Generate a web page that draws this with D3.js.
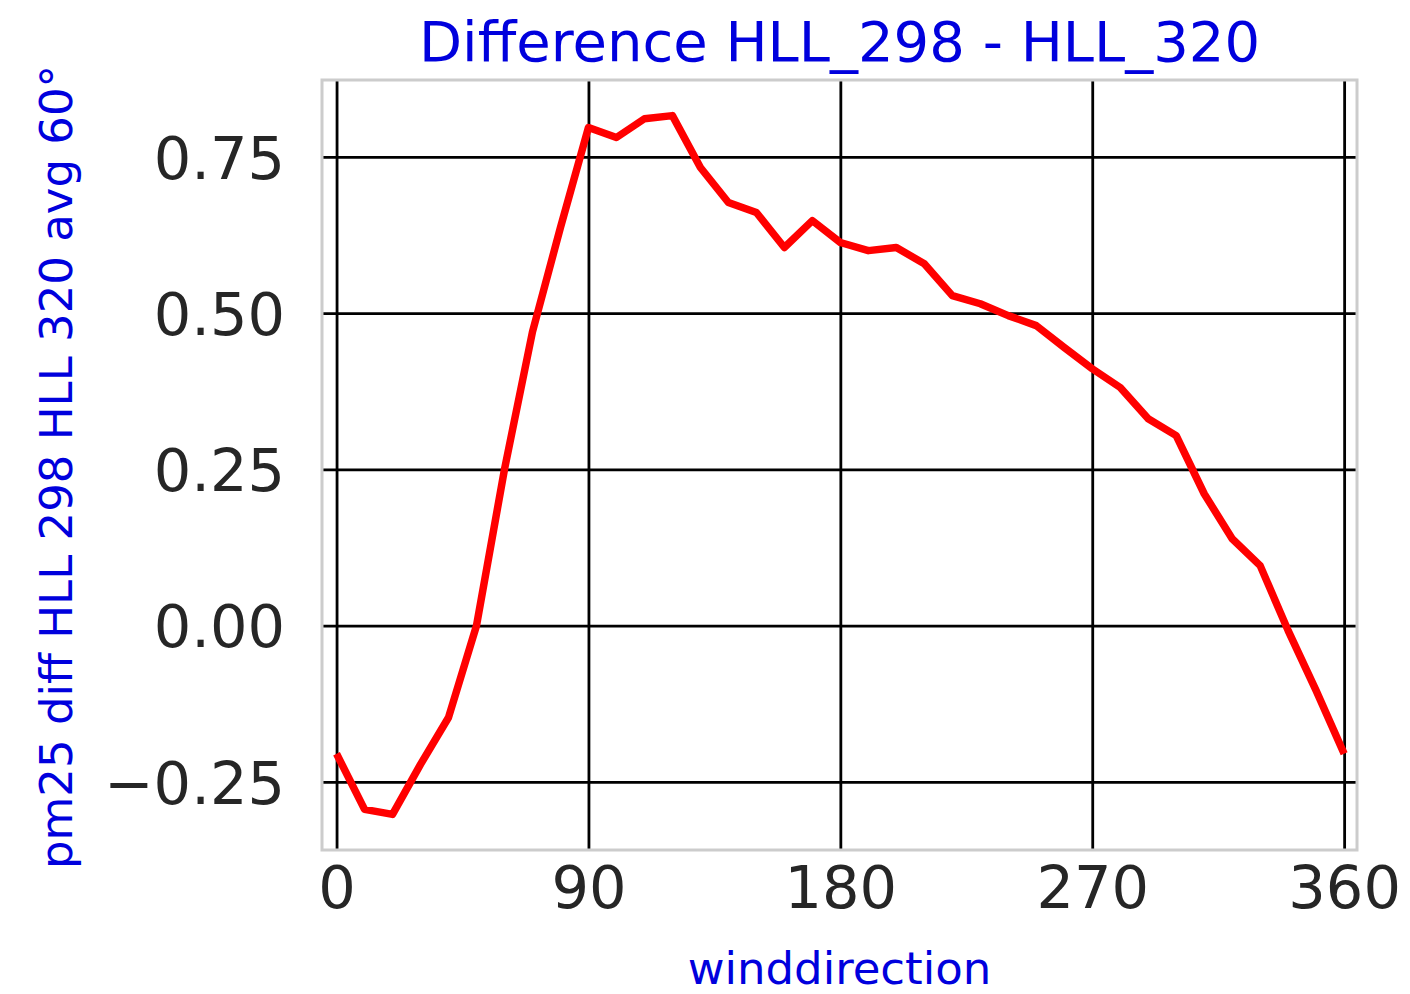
<!DOCTYPE html>
<html>
<head>
<meta charset="utf-8">
<script src="https://cdn.jsdelivr.net/npm/d3@7"></script>
<style>
  body { margin: 0; background: #fff; }
  text { font-family: "DejaVu Sans", sans-serif; }
</style>
</head>
<body>
<div id="chart"></div>
<script>
// wind direction (deg) and pm25 difference
var directions = [0, 10, 20, 30, 40, 50, 60, 70, 80, 90, 100, 110, 120, 130, 140, 150, 160, 170, 180,
                  190, 200, 210, 220, 230, 240, 250, 260, 270, 280, 290, 300, 310, 320, 330, 340, 350, 360];
var diffValues = [-0.205, -0.294, -0.302, -0.222, -0.147, 0.000, 0.250, 0.470, 0.637, 0.797, 0.781, 0.811, 0.816,
                  0.733, 0.677, 0.661, 0.605, 0.648, 0.613, 0.600, 0.605, 0.579, 0.528, 0.515, 0.496, 0.480,
                  0.445, 0.411, 0.381, 0.331, 0.304, 0.211, 0.139, 0.096, -0.008, -0.104, -0.205];
var xTicks = [0, 90, 180, 270, 360];
var yTicks = [-0.25, 0, 0.25, 0.5, 0.75];

var titleText = "Difference HLL_298 - HLL_320";
var xLabel = "winddirection";
var yLabel = "pm25 diff HLL 298 HLL 320 avg 60°";

var margin = { top: 80, right: 53, bottom: 144, left: 322 },
    width = 1410 - margin.left - margin.right,
    height = 994 - margin.top - margin.bottom;

var svg = d3.select("#chart")
    .append("svg")
    .attr("width", 1410)
    .attr("height", 994);

var g = svg.append("g")
    .attr("transform", "translate(" + margin.left + "," + margin.top + ")");

var x = d3.scaleLinear()
    .domain([-5.2, 364.6])
    .range([0, width]);

var y = d3.scaleLinear()
    .domain([-0.359, 0.873])
    .range([height, 0]);

// x axis + vertical grid
var xAxis = g.append("g")
    .attr("transform", "translate(0," + height + ")")
    .call(d3.axisBottom(x).tickValues(xTicks).tickSize(-height).tickPadding(16).tickFormat(d3.format("d")));

// y axis + horizontal grid
var yAxis = g.append("g")
    .call(d3.axisLeft(y).tickValues(yTicks).tickSize(-width).tickPadding(37).tickFormat(d3.format(".2f")));

[xAxis, yAxis].forEach(function (a) {
    a.select(".domain").remove();
    a.selectAll(".tick line").attr("stroke", "#000").attr("stroke-width", 2.8);
    a.selectAll(".tick text")
        .attr("fill", "#262626")
        .style("font-size", "59px");
});
xAxis.selectAll(".tick text").attr("dy", "0.71em");
yAxis.selectAll(".tick text").attr("dy", "0.36em");

// frame
g.append("rect")
    .attr("x", 0)
    .attr("y", 0)
    .attr("width", width)
    .attr("height", height)
    .attr("fill", "none")
    .attr("stroke", "#cccccc")
    .attr("stroke-width", 3);

// data line
var line = d3.line()
    .x(function (d, i) { return x(directions[i]); })
    .y(function (d) { return y(d); });

g.append("path")
    .datum(diffValues)
    .attr("fill", "none")
    .attr("stroke", "#f00")
    .attr("stroke-width", 7.5)
    .attr("stroke-linejoin", "round")
    .attr("d", line);

// title and axis labels
svg.append("text")
    .attr("x", margin.left + width / 2)
    .attr("y", 61)
    .attr("text-anchor", "middle")
    .attr("fill", "#0000dd")
    .style("font-size", "56px")
    .text(titleText);

svg.append("text")
    .attr("x", margin.left + width / 2)
    .attr("y", 984)
    .attr("text-anchor", "middle")
    .attr("fill", "#0000dd")
    .style("font-size", "45px")
    .text(xLabel);

svg.append("text")
    .attr("transform", "translate(72," + (margin.top + height / 2 + 2) + ") rotate(-90)")
    .attr("text-anchor", "middle")
    .attr("fill", "#0000dd")
    .style("font-size", "45px")
    .text(yLabel);
</script>
</body>
</html>
